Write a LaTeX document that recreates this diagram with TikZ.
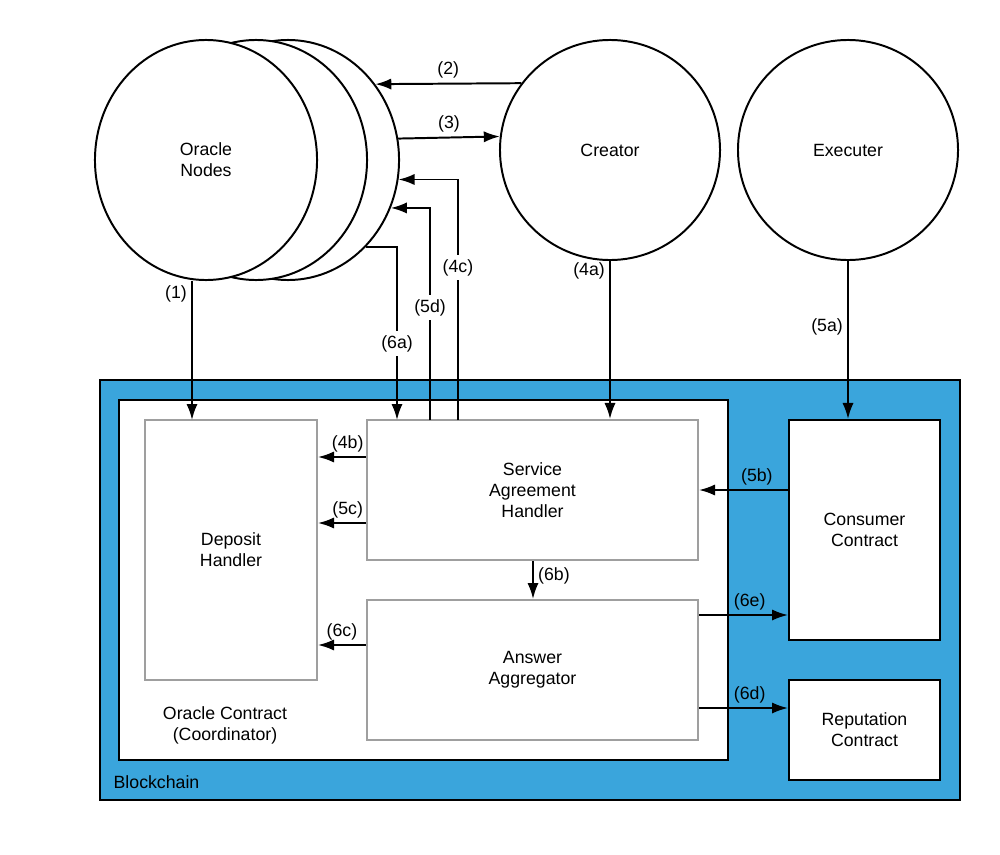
\documentclass[tikz,border=0pt]{standalone}
\usepackage{fontspec}
\setmainfont{Liberation Sans}
\usetikzlibrary{shapes.geometric,arrows.meta}
\definecolor{chainblue}{HTML}{3AA5DC}

\begin{document}
\begin{tikzpicture}[x=0.025cm, y=-0.025cm, line width=1.4pt,
  >={Latex[length=4mm,width=2.8mm]},
  font=\fontsize{12.6}{15}\selectfont,
  party/.style = {draw, circle, fill=white, minimum size=5.5cm, align=center},
  oracle/.style = {draw, ellipse, fill=white, minimum width=5.55cm, minimum height=6cm, align=center},
  part/.style = {draw=gray!75, fill=white, align=center},
  contract/.style = {draw, fill=white, align=center},
  lbl/.style = {inner sep=3pt}]
\useasboundingbox (0,0) rectangle (1000,855);

% outside the chain
\node[oracle] (back) at (288,160) {};
\node[oracle] (mid) at (256,160) {};
\node[oracle] (front) at (206,160) {Oracle\\Nodes};
\node[party] (creator) at (610,150) {Creator};
\node[party] (exec) at (848,150) {Executer};

% the chain
\node[draw, fill=chainblue, minimum width=21.5cm, minimum height=10.5cm] (chain) at (530,590) {};
\node[right] (chaintext) at (108,782) {Blockchain};
\node[contract, minimum width=15.225cm, minimum height=9cm] (coord) at (423.5,580) {};
\node[align=center] (coordtext) at (225,725) {Oracle Contract\\(Coordinator)};
\node[part, minimum width=4.3cm, minimum height=6.5cm] (dep) at (231,550) {Deposit\\Handler};
\node[part, minimum width=8.275cm, minimum height=3.5cm] (sah) at (532.5,490) {Service\\Agreement\\Handler};
\node[part, minimum width=8.275cm, minimum height=3.5cm] (agg) at (532.5,670) {Answer\\Aggregator};
\node[contract, minimum width=3.775cm, minimum height=5.5cm] (con) at (864.5,530) {Consumer\\Contract};
\node[contract, minimum width=3.775cm, minimum height=2.5cm] (rep) at (864.5,730) {Reputation\\Contract};

\coordinate (t1) at (192,420);
\coordinate (t6a) at (397,420);
\coordinate (t5d) at (430,420);
\coordinate (t4c) at (458,420);

\draw[->] (creator.143) -- node[lbl, above] {(2)} (back.41.5);
\draw[->] (back.11.4) -- node[lbl, above] {(3)} (creator.173.7);
\draw[->] (front.south -| t1) -- node[lbl, left, pos=0.09] {(1)} (t1);
\draw[->] (back.-48) -| node[lbl, fill=white, pos=0.78] {(6a)} (t6a);
\draw[->] (t5d) |- node[lbl, fill=white, pos=0.265] {(5d)} (back.-25.8);
\draw[->] (t4c) |- node[lbl, fill=white, pos=0.317] {(4c)} (back.-10.3);
\draw[->] (creator.south) -- node[lbl, left, pos=0.06] {(4a)} (creator.south |- sah.north);
\draw[->] (exec.south) -- node[lbl, left, pos=0.42] {(5a)} (exec.south |- con.north);

\draw[->] (sah.west |- 0,457) -- node[lbl, above, pos=0.38] {(4b)} (dep.east |- 0,457);
\draw[->] (sah.west |- 0,523) -- node[lbl, above, pos=0.38] {(5c)} (dep.east |- 0,523);
\draw[->] (agg.west |- 0,645) -- node[lbl, above] {(6c)} (dep.east |- 0,645);
\draw[->] (sah.south -| 533,0) -- node[lbl, right, pos=0.4] {(6b)} (agg.north -| 533,0);
\draw[->] (con.west |- 0,490) -- node[lbl, above, pos=0.35] {(5b)} (sah.east |- 0,490);
\draw[->] (agg.east |- 0,615) -- node[lbl, above, pos=0.57] {(6e)} (con.west |- 0,615);
\draw[->] (agg.east |- 0,708) -- node[lbl, above, pos=0.57] {(6d)} (rep.west |- 0,708);
\end{tikzpicture}
\end{document}
